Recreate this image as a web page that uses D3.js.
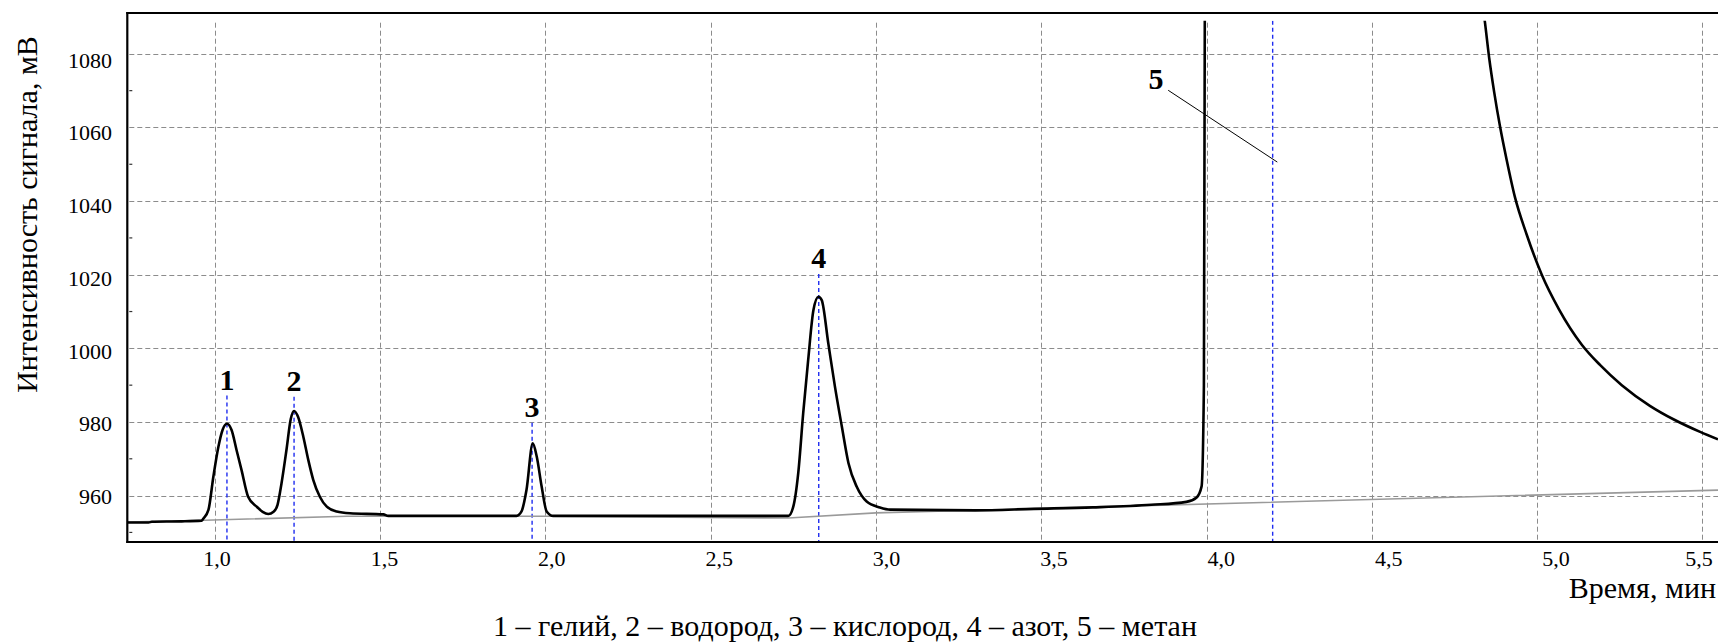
<!DOCTYPE html>
<html>
<head>
<meta charset="utf-8">
<script src="https://cdn.jsdelivr.net/npm/d3@7/dist/d3.min.js"></script>
<style>
  html, body { margin: 0; padding: 0; background: #fff; }
  svg { display: block; }
  text { font-family: "Liberation Serif", "Times New Roman", "DejaVu Serif", serif; fill: #000; }
</style>
</head>
<body>
<svg id="chart" width="1718" height="643" font-family="Liberation Serif, Times New Roman, serif"></svg>
<script>
// Chromatogram trace: [time, min ; signal, mV]
const signalPoints = [
  [0.735, 952.7], [0.80, 952.7], [0.81, 952.9], [0.90, 953.0], [0.96, 953.2],
  [0.966, 953.8], [0.981, 956.1], [0.996, 965.2], [1.011, 973.2], [1.024, 977.9],
  [1.037, 979.5], [1.051, 977.8], [1.066, 972.4], [1.081, 967.0], [1.101, 959.7],
  [1.127, 957.0], [1.145, 955.6], [1.162, 955.0], [1.178, 955.6], [1.190, 957.5],
  [1.202, 963.3], [1.217, 972.4], [1.230, 980.8], [1.240, 983.0], [1.252, 981.4],
  [1.268, 976.0], [1.283, 969.7], [1.298, 964.3], [1.318, 959.7], [1.339, 957.0],
  [1.369, 955.7], [1.409, 955.2], [1.510, 954.9], [1.525, 954.5], [1.913, 954.5],
  [1.928, 955.7], [1.943, 961.5], [1.962, 974.2], [1.974, 970.6], [1.989, 962.4],
  [2.004, 955.7], [2.024, 954.5], [2.735, 954.5], [2.750, 957.0], [2.765, 966.1],
  [2.780, 982.4], [2.795, 996.8], [2.811, 1010.4], [2.826, 1014.0], [2.836, 1013.1],
  [2.856, 1001.3], [2.876, 989.6], [2.897, 978.7], [2.917, 968.8], [2.942, 962.4],
  [2.972, 958.4], [3.012, 956.8], [3.043, 956.2], [3.300, 956.0], [3.478, 956.4],
  [3.656, 956.8], [3.833, 957.5], [3.939, 958.3], [3.970, 959.5], [3.985, 962.5],
  [3.992, 990.0], [3.995, 1100.0]
];

// Methane peak tail returning into range
const tailPoints = [
  [4.835, 1093.4], [4.842, 1088.6], [4.855, 1078.8], [4.870, 1069.6], [4.888, 1060.1],
  [4.908, 1051.1], [4.933, 1041.0], [4.968, 1031.0], [5.014, 1020.0], [5.066, 1010.6],
  [5.135, 1001.0], [5.190, 995.5], [5.256, 990.0], [5.341, 984.4], [5.415, 980.6],
  [5.493, 977.3], [5.547, 975.3]
];

// Integration baseline
const baselinePoints = [
  [0.735, 952.8], [0.97, 953.3], [1.40, 954.4], [2.02, 954.4], [2.735, 953.9],
  [3.0, 955.3], [5.547, 961.5]
];

// Peak markers
const peakNames  = ["1", "2", "3", "4", "5"];
const peakTimes  = [1.037, 1.240, 1.960, 2.827, 4.200];
const labelTimes = [1.037, 1.240, 1.960, 2.827, 3.847];
const labelLevels = [988.8, 988.5, 981.4, 1021.8, 1070.4];
// leader from label 5 to its marker
const leaderFrom = [3.884, 1070.1];
const leaderTo   = [4.214, 1050.6];

const xTicks = [1.0, 1.5, 2.0, 2.5, 3.0, 3.5, 4.0, 4.5, 5.0, 5.5];
const yTicks = [960, 980, 1000, 1020, 1040, 1060, 1080];
const yMinorTicks = [950, 970, 990, 1010, 1030, 1050, 1070];

const xTitle = "Время, мин";
const yTitle = "Интенсивность сигнала, мВ";
const caption = "1 – гелий, 2 – водород, 3 – кислород, 4 – азот, 5 – метан";

const FONT = "Liberation Serif, Times New Roman, serif";
const svg = d3.select("#chart");
const plotLeft = 127.3, plotRight = 1718, plotTop = 20.7, plotBottom = 542, frameTop = 13;

const x = d3.scaleLinear().domain([0.7356, 5.547]).range([plotLeft, plotRight]);
const y = d3.scaleLinear().domain([947.4, 1089]).range([plotBottom, plotTop]);
// tick labels sit on their own slightly wider spacing
const xLabel = d3.scaleLinear().domain([1, 5]).range([217, 1556]);
const yLabel = d3.scaleLinear().domain([960, 1080]).range([496.7, 60]);

svg.append("defs").append("clipPath").attr("id", "plotClip")
  .append("rect")
  .attr("x", plotLeft).attr("y", plotTop)
  .attr("width", plotRight - plotLeft).attr("height", plotBottom - plotTop);

// grid
const grid = svg.append("g").attr("stroke", "#8c8c8c").attr("stroke-width", 1)
  .attr("stroke-dasharray", "5,3").attr("fill", "none");
grid.selectAll("line.h").data(yTicks).join("line")
  .attr("x1", plotLeft + 2).attr("x2", plotRight)
  .attr("y1", d => Math.round(y(d)) + 0.5).attr("y2", d => Math.round(y(d)) + 0.5);
grid.selectAll("line.v").data(xTicks).join("line")
  .attr("x1", d => Math.round(x(d)) + 0.5).attr("x2", d => Math.round(x(d)) + 0.5)
  .attr("y1", plotTop + 2).attr("y2", plotBottom);

// minor ticks on the left edge
svg.append("g").selectAll("line").data(yMinorTicks).join("line")
  .attr("x1", plotLeft + 2).attr("x2", plotLeft + 5)
  .attr("y1", d => y(d)).attr("y2", d => y(d))
  .attr("stroke", "#333").attr("stroke-width", 1.2);

const plot = svg.append("g").attr("clip-path", "url(#plotClip)");

// peak markers
plot.selectAll("line.marker").data(peakTimes).join("line")
  .attr("x1", d => x(d)).attr("x2", d => x(d))
  .attr("y1", (d, i) => i === 4 ? plotTop : y(labelLevels[i]) + 6)
  .attr("y2", plotBottom)
  .attr("stroke", "#1f2cf0").attr("stroke-width", 1.4).attr("stroke-dasharray", "4,3");

const line = d3.line().x(d => x(d[0])).y(d => y(d[1]));

plot.append("path").datum(baselinePoints)
  .attr("d", line).attr("fill", "none")
  .attr("stroke", "#9a9a9a").attr("stroke-width", 1.6);

const smooth = d3.line().x(d => x(d[0])).y(d => y(d[1])).curve(d3.curveMonotoneX);
[signalPoints, tailPoints].forEach(pts => {
  plot.append("path").datum(pts)
    .attr("d", smooth).attr("fill", "none")
    .attr("stroke", "#000").attr("stroke-width", 2.6)
    .attr("stroke-linejoin", "round");
});

// leader line for label 5
svg.append("line")
  .attr("x1", x(leaderFrom[0])).attr("y1", y(leaderFrom[1]))
  .attr("x2", x(leaderTo[0])).attr("y2", y(leaderTo[1]))
  .attr("stroke", "#000").attr("stroke-width", 1);

// peak numbers
svg.append("g").selectAll("text").data(peakNames).join("text")
  .attr("x", (d, i) => x(labelTimes[i]))
  .attr("y", (d, i) => y(labelLevels[i]))
  .attr("text-anchor", "middle")
  .attr("font-family", FONT)
  .attr("font-size", 30).attr("font-weight", "bold")
  .text(d => d);

// frame
const frame = svg.append("g").attr("stroke", "#000").attr("stroke-width", 2.2).attr("fill", "none");
frame.append("line").attr("x1", plotLeft - 1).attr("x2", plotRight).attr("y1", frameTop).attr("y2", frameTop);
frame.append("line").attr("x1", plotLeft).attr("x2", plotLeft).attr("y1", frameTop - 1).attr("y2", plotBottom + 1);
frame.append("line").attr("x1", plotLeft - 1).attr("x2", plotRight).attr("y1", plotBottom).attr("y2", plotBottom);

// tick labels
const fmt = d => d.toFixed(1).replace(".", ",");
svg.append("g").selectAll("text").data(xTicks).join("text")
  .attr("x", d => Math.min(xLabel(d), 1699))
  .attr("y", 566)
  .attr("text-anchor", "middle")
  .attr("font-family", FONT)
  .attr("font-size", 22)
  .text(fmt);

svg.append("g").selectAll("text").data(yTicks).join("text")
  .attr("x", 112)
  .attr("y", d => yLabel(d) + 7.5)
  .attr("text-anchor", "end")
  .attr("font-family", FONT)
  .attr("font-size", 22)
  .text(d => d);

// titles
svg.append("text")
  .attr("x", 1716).attr("y", 598)
  .attr("text-anchor", "end")
  .attr("font-family", FONT)
  .attr("font-size", 30)
  .text(xTitle);

svg.append("text")
  .attr("transform", "translate(37,214.5) rotate(-90)")
  .attr("text-anchor", "middle")
  .attr("font-family", FONT)
  .attr("font-size", 30)
  .text(yTitle);

svg.append("text")
  .attr("x", 845).attr("y", 636)
  .attr("text-anchor", "middle")
  .attr("font-family", FONT)
  .attr("font-size", 30)
  .text(caption);
</script>
</body>
</html>
